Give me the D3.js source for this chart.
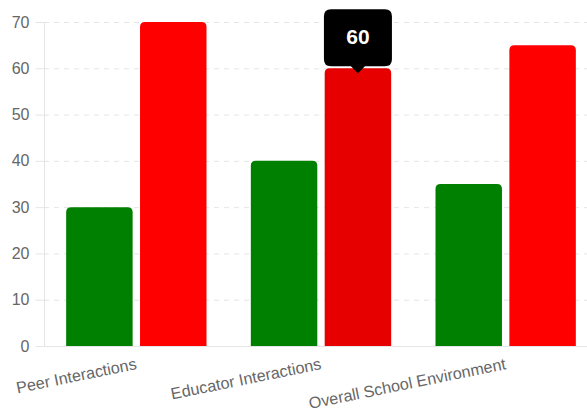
<!DOCTYPE html>
<html>
<head>
<meta charset="utf-8">
<script src="https://cdn.jsdelivr.net/npm/d3@7"></script>
<style>
  html, body { margin: 0; padding: 0; background: #fff; }
  svg { display: block; font-family: "Liberation Sans", Arial, Helvetica, sans-serif; }
</style>
</head>
<body>
<svg id="chart" width="587" height="412"></svg>
<script>
// Chart data
const categories = ["Peer Interactions", "Educator Interactions", "Overall School Environment"];
const seriesNames = ["Positive", "Negative"];
const positiveValues = [30, 40, 35];
const negativeValues = [70, 60, 65];
const yTicks = [0, 10, 20, 30, 40, 50, 60, 70];
const seriesColors = ["#008000", "#ff0000"];
const highlighted = { series: 1, index: 1 }; // bar showing a tooltip

const svg = d3.select("#chart");
const plot = { left: 44, right: 598, top: 22, bottom: 346 };

const x0 = d3.scaleBand()
  .domain(categories)
  .range([plot.left, plot.right])
  .paddingInner(0).paddingOuter(0);

const groupWidth = x0.bandwidth() * 0.8;
const x1 = d3.scaleBand()
  .domain(seriesNames)
  .range([0, groupWidth]);
const barWidth = x1.bandwidth() * 0.9;

const y = d3.scaleLinear().domain([0, 70]).range([plot.bottom, plot.top]);

// Grid lines (dashed)
svg.append("g").selectAll("line")
  .data(yTicks.filter(t => t > 0))
  .join("line")
  .attr("x1", plot.left).attr("x2", plot.right)
  .attr("y1", d => y(d) + 0.5).attr("y2", d => y(d) + 0.5)
  .attr("stroke", "#e5e5e5").attr("stroke-width", 1)
  .attr("stroke-dasharray", "5,5");

// Y axis
const yAxis = d3.axisLeft(y).tickValues(yTicks).tickSize(9).tickPadding(6);
const gy = svg.append("g")
  .attr("transform", `translate(${plot.left + 0.5},0)`)
  .call(yAxis);
gy.select(".domain").attr("stroke", "#e5e5e5").attr("d", `M0,${plot.top}V${plot.bottom}`);
gy.selectAll(".tick line").attr("stroke", "#e5e5e5");
gy.selectAll(".tick text")
  .attr("fill", "#666").attr("font-size", 16)
  .attr("font-family", "Liberation Sans, Arial, sans-serif");

// X axis baseline
svg.append("line")
  .attr("x1", plot.left).attr("x2", plot.right)
  .attr("y1", plot.bottom + 0.5).attr("y2", plot.bottom + 0.5)
  .attr("stroke", "#e5e5e5");

// Bars with rounded top corners
function barPath(x, yTop, w, yBase, r) {
  r = Math.min(r, w / 2, (yBase - yTop));
  return `M${x},${yBase}V${yTop + r}Q${x},${yTop} ${x + r},${yTop}` +
         `H${x + w - r}Q${x + w},${yTop} ${x + w},${yTop + r}V${yBase}Z`;
}

const rows = [];
categories.forEach((c, i) => {
  [positiveValues[i], negativeValues[i]].forEach((v, s) => {
    rows.push({ cat: c, i, s, v });
  });
});

svg.append("g").selectAll("path")
  .data(rows)
  .join("path")
  .attr("d", d => {
    const slotX = x0(d.cat) + (x0.bandwidth() - groupWidth) / 2 + x1(seriesNames[d.s]);
    const bx = slotX + (x1.bandwidth() - barWidth) / 2;
    return barPath(bx, y(d.v), barWidth, y(0), 5);
  })
  .attr("fill", d => (d.s === highlighted.series && d.i === highlighted.index) ? "#e60000" : seriesColors[d.s]);

// Rotated category labels
svg.append("g").selectAll("text")
  .data(categories)
  .join("text")
  .attr("transform", d => `translate(${x0(d) + x0.bandwidth() / 2 + 1},${plot.bottom + 23}) rotate(-11.5)`)
  .attr("text-anchor", "end")
  .attr("fill", "#666")
  .attr("font-size", 16.2)
  .text(d => d);

// Tooltip for the highlighted bar
{
  const hv = highlighted.series === 0 ? positiveValues[highlighted.index] : negativeValues[highlighted.index];
  const cat = categories[highlighted.index];
  const slotX = x0(cat) + (x0.bandwidth() - groupWidth) / 2 + x1(seriesNames[highlighted.series]);
  const cx = slotX + x1.bandwidth() / 2;
  const tipY = y(hv) + 5;
  const bw = 68, bh = 57, r = 7, caret = 7;
  const bx = cx - bw / 2, byBottom = tipY - caret, byTop = byBottom - bh;
  const p = `M${bx + r},${byTop}H${bx + bw - r}Q${bx + bw},${byTop} ${bx + bw},${byTop + r}` +
            `V${byBottom - r}Q${bx + bw},${byBottom} ${bx + bw - r},${byBottom}` +
            `H${cx + caret}L${cx},${tipY}L${cx - caret},${byBottom}` +
            `H${bx + r}Q${bx},${byBottom} ${bx},${byBottom - r}V${byTop + r}Q${bx},${byTop} ${bx + r},${byTop}Z`;
  svg.append("path").attr("d", p).attr("fill", "#000");
  svg.append("text")
    .attr("x", cx).attr("y", byTop + bh / 2 + 6)
    .attr("text-anchor", "middle")
    .attr("fill", "#fff")
    .attr("font-weight", "bold")
    .attr("font-size", 21)
    .text(hv);
}
</script>
</body>
</html>
